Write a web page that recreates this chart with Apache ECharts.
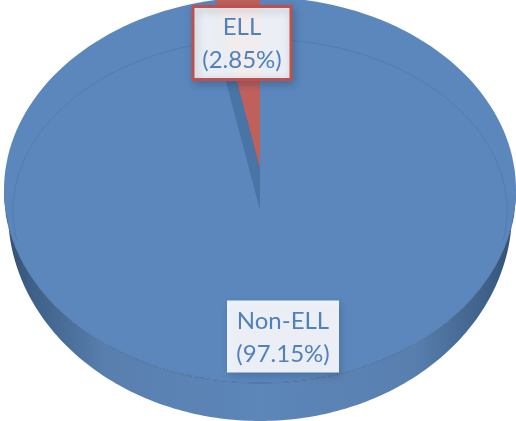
<!DOCTYPE html>
<html><head><meta charset="utf-8">
<style>html,body{margin:0;padding:0;background:#fff}#c{width:516px;height:421px}</style>
<script src="https://cdn.jsdelivr.net/npm/echarts@6/dist/echarts.min.js"></script>
</head><body><div id="c"></div>
<script>
var categories = ['Non-ELL', 'ELL'];
var shares = [97.15, 2.85];
var sliceColors = ['#5b87bd', '#c0605c'];

var FACE = {cx: 260, cy: 190, rx: 256, ry: 193};
var BASE = {cx: 260, cy: 212, rx: 252, ry: 209};
var RIM = {cx: 260, cy: 211, rx: 247, ry: 172};
var APEX = {x: 260, y: 210};
var RED_TIP = {x: 260, y: 168};
var LABELS = [
  {cx: 283, cy: 336.5, w: 112, h: 72, border: null},
  {cx: 242, cy: 43, w: 98, h: 73, border: '#c0504d'}
];
var total = shares.reduce(function (a, b) { return a + b; }, 0);

function ell(e, deg) {
  var r = deg * Math.PI / 180;
  return [e.cx + e.rx * Math.sin(r), e.cy - e.ry * Math.cos(r)];
}
function arcPts(e, a0, a1) {
  var p = [], n = 180;
  for (var i = 0; i <= n; i++) p.push(ell(e, a0 + (a1 - a0) * i / n));
  return p;
}
function labelEls(i) {
  var L = LABELS[i];
  var pctText = categories[i] + '\n(' + shares[i].toFixed(2) + '%)';
  return [
    {type: 'rect', shape: {x: L.cx - L.w / 2, y: L.cy - L.h / 2, width: L.w, height: L.h},
     style: {fill: 'rgba(255,255,255,0.89)', stroke: L.border, lineWidth: L.border ? 3 : 0,
             shadowBlur: 8, shadowOffsetX: 2, shadowOffsetY: 3, shadowColor: 'rgba(30,50,80,0.3)'}},
    {type: 'text', style: {x: L.cx, y: L.cy + 1, text: pctText, fill: '#4f81bd',
      font: '24px Lato, Carlito, sans-serif', align: 'center', verticalAlign: 'middle', lineHeight: 33}}
  ];
}

var chart = echarts.init(document.getElementById('c'), null, {renderer: 'canvas'});
chart.setOption({
  animation: false,
  xAxis: {show: false}, yAxis: {show: false},
  series: [{
    type: 'custom',
    coordinateSystem: 'none',
    data: categories.map(function (c, i) { return {name: c, value: [shares[i], i]}; }),
    silent: true,
    renderItem: function (params, api) {
      var i = params.dataIndex, v = api.value(0);
      var w = 360 * shares[1] / total;
      var children = [];
      if (i === 0) {
        // side wall
        children.push({type: 'polygon', shape: {points: arcPts(BASE, 90, 270).concat(arcPts(FACE, 270, 90))},
          style: {fill: new echarts.graphic.LinearGradient(0, 0, 1, 0, [
            {offset: 0, color: '#2f4e72'}, {offset: 0.05, color: '#3d5f87'},
            {offset: 0.2, color: '#587fae'}, {offset: 0.5, color: '#5d86b9'},
            {offset: 0.8, color: '#587fae'}, {offset: 0.95, color: '#3d5f87'},
            {offset: 1, color: '#2f4e72'}])}});
        // top face
        children.push({type: 'polygon', shape: {points: arcPts(FACE, 0, 360)}, style: {fill: sliceColors[0]}});
        // faint bevel line on the upper part of the face
        children.push({type: 'polyline', shape: {points: arcPts(RIM, -100, 100)},
          style: {fill: null, stroke: 'rgba(50,85,130,0.22)', lineWidth: 1}});
        // front edge of the face
        children.push({type: 'polyline', shape: {points: arcPts(FACE, 97, 263)},
          style: {fill: null, stroke: 'rgba(45,75,115,0.45)', lineWidth: 1}});
        // the cut wall seen through the gap
        children.push({type: 'polygon', shape: {points: [
            [APEX.x, APEX.y], [RED_TIP.x, RED_TIP.y], ell(FACE, 0),
            ell({cx: APEX.x, cy: APEX.y, rx: 300, ry: 205}, -w)]},
          style: {fill: '#4a74a6'}});
      } else {
        // red wedge, pulled out toward the top
        var E = {cx: RED_TIP.x, cy: RED_TIP.y, rx: 256, ry: 175};
        children.push({type: 'polygon', shape: {points: [[RED_TIP.x, RED_TIP.y]].concat(arcPts(E, -360 * v / total, 0))}, style: {fill: sliceColors[1]}});
      }
      return {type: 'group', children: children};
    }
  }, {
    type: 'custom',
    coordinateSystem: 'none',
    silent: true,
    z: 5,
    data: categories.map(function (c, i) { return [i]; }),
    renderItem: function (params) {
      return {type: 'group', children: labelEls(params.dataIndex)};
    }
  }]
});
</script></body></html>
